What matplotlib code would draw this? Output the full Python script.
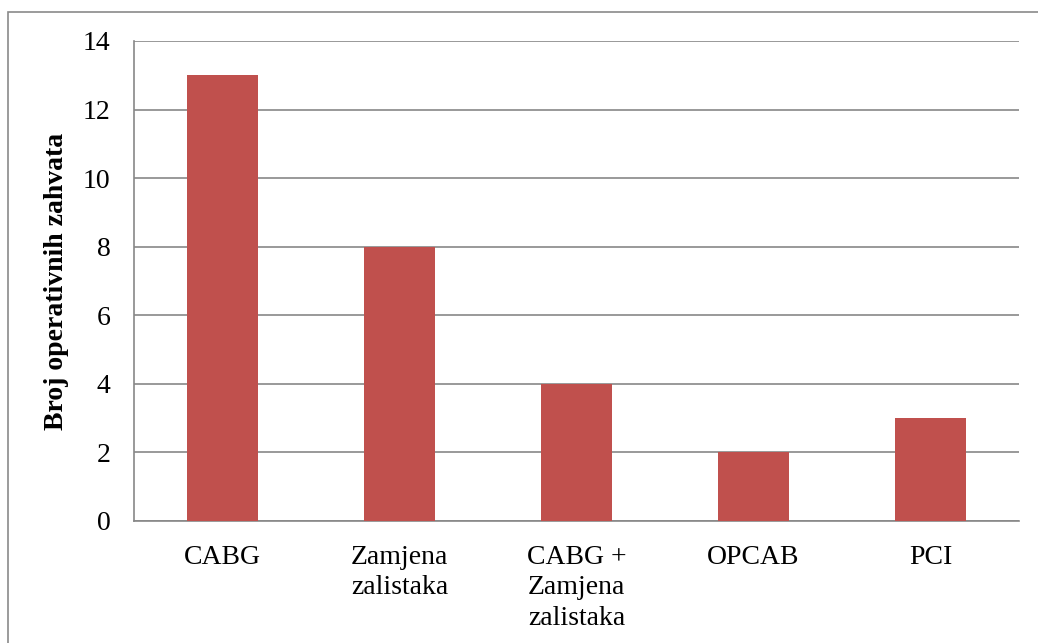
import matplotlib
matplotlib.use("Agg")
import matplotlib.pyplot as plt
from matplotlib.patches import Rectangle

categories = ["CABG", "Zamjena\nzalistaka", "CABG +\nZamjena\nzalistaka", "OPCAB", "PCI"]
values = [13, 8, 4, 2, 3]
yticks = [0, 2, 4, 6, 8, 10, 12, 14]
ylabel = "Broj operativnih zahvata"

plt.rcParams['font.family'] = ['Liberation Serif', 'DejaVu Serif']

W, H = 1038, 643
fig = plt.figure(figsize=(W / 100, H / 100), dpi=100)
ax = fig.add_axes([134 / W, 1 - 521 / H, (1019 - 134) / W, (521 - 41) / H])

x = list(range(len(categories)))
ax.bar(x, values, width=0.4, color="#C0504D", zorder=3)
ax.set_xlim(-0.5, len(categories) - 0.5)
ax.set_ylim(0, 14)
ax.set_yticks(yticks)
ax.set_yticklabels([str(v) for v in yticks])
ax.set_xticks(x)
ax.set_xticklabels(categories, linespacing=1.3, va="top")
ax.tick_params(axis="both", length=0, labelsize=20)
ax.tick_params(axis="y", pad=17)
ax.tick_params(axis="x", pad=17)
ax.grid(axis="y", color="#878787", linewidth=1.2, zorder=0)
for s in ["top", "right"]:
    ax.spines[s].set_visible(False)
ax.spines["left"].set_color("#878787")
ax.spines["bottom"].set_color("#878787")
ax.spines["left"].set_linewidth(1.2)
ax.spines["bottom"].set_linewidth(1.2)
ax.set_ylabel(ylabel, fontsize=20, fontweight="bold", labelpad=10)

fig.patches.append(Rectangle((8 / W, -0.1), 1.2, 1 - 12 / H + 0.1, transform=fig.transFigure,
                             fill=False, edgecolor="#8a8a8a", linewidth=1.2))

fig.savefig("out.png", dpi=100)
